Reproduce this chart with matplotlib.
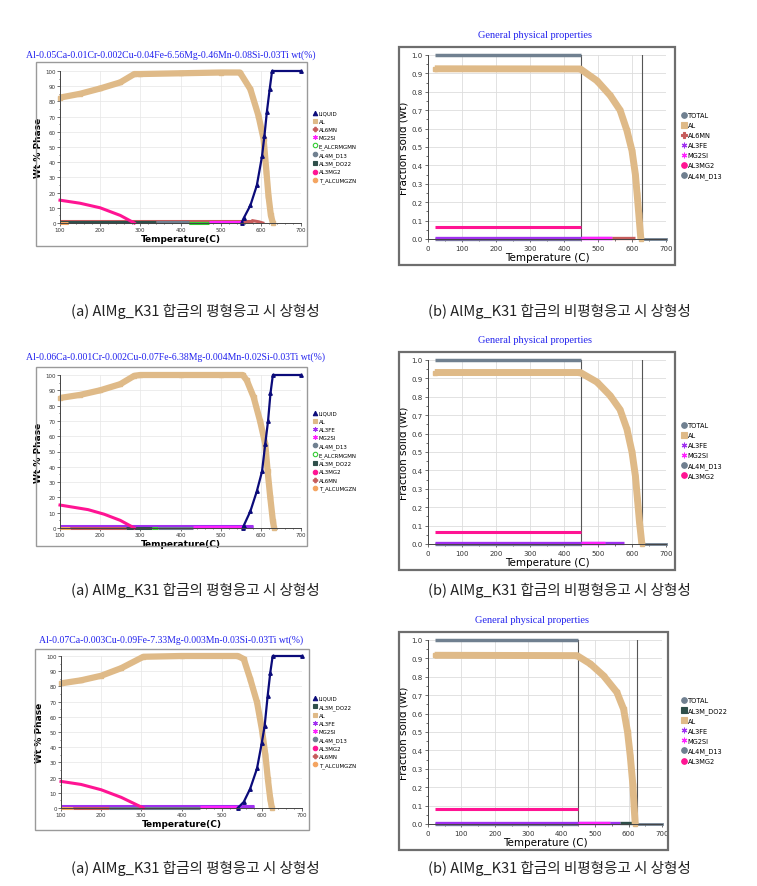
import matplotlib
matplotlib.use("Agg")
import matplotlib.pyplot as plt
from matplotlib.patches import Rectangle
from matplotlib.lines import Line2D
from matplotlib.ticker import MultipleLocator

W, H = 757, 887

# ---------------- colours ----------------
C = {
    "LIQUID": "#0b0b7a", "AL": "#dfba88", "AL6MN": "#c65c5c", "MG2SI": "#ff22ff",
    "E_ALCRMGMN": "#33cc33", "AL4M_D13": "#6f7f8f", "AL3M_DO22": "#2f4f4a",
    "AL3MG2": "#ff1493", "T_ALCUMGZN": "#f4a460", "AL3FE": "#a030f0", "TOTAL": "#708090",
}
MK = {
    "LIQUID": "^", "AL": "s", "AL6MN": "P", "MG2SI": (6, 2, 0), "E_ALCRMGMN": "o",
    "AL4M_D13": "o", "AL3M_DO22": "s", "AL3MG2": "o", "T_ALCUMGZN": "o",
    "AL3FE": (6, 2, 0), "TOTAL": "o",
}

# ---------------- text ----------------
titles_left = [
    "Al-0.05Ca-0.01Cr-0.002Cu-0.04Fe-6.56Mg-0.46Mn-0.08Si-0.03Ti wt(%)",
    "Al-0.06Ca-0.001Cr-0.002Cu-0.07Fe-6.38Mg-0.004Mn-0.02Si-0.03Ti wt(%)",
    "Al-0.07Ca-0.003Cu-0.09Fe-7.33Mg-0.003Mn-0.03Si-0.03Ti wt(%)",
]
title_right = "General physical properties"
caption_a = "(a) AlMg_K31 합금의 평형응고 시 상형성"
caption_b = "(b) AlMg_K31 합금의 비평형응고 시 상형성"

legend_left = [
    ["LIQUID", "AL", "AL6MN", "MG2SI", "E_ALCRMGMN", "AL4M_D13", "AL3M_DO22", "AL3MG2", "T_ALCUMGZN"],
    ["LIQUID", "AL", "AL3FE", "MG2SI", "AL4M_D13", "E_ALCRMGMN", "AL3M_DO22", "AL3MG2", "AL6MN", "T_ALCUMGZN"],
    ["LIQUID", "AL3M_DO22", "AL", "AL3FE", "MG2SI", "AL4M_D13", "AL3MG2", "AL6MN", "T_ALCUMGZN"],
]
legend_right = [
    ["TOTAL", "AL", "AL6MN", "AL3FE", "MG2SI", "AL3MG2", "AL4M_D13"],
    ["TOTAL", "AL", "AL3FE", "MG2SI", "AL4M_D13", "AL3MG2"],
    ["TOTAL", "AL3M_DO22", "AL", "AL3FE", "MG2SI", "AL4M_D13", "AL3MG2"],
]

# ---------------- equilibrium data (Wt % phase vs T) ----------------
eq_AL_T = [
    [100, 150, 200, 250, 285, 300, 400, 500, 548, 574, 594, 607, 614, 619, 625, 630],
    [100, 150, 200, 250, 285, 300, 400, 500, 555, 565, 582, 598, 611, 617, 623.5, 630, 633],
    [100, 150, 200, 250, 305, 400, 540, 555, 571, 588, 600, 609, 615, 621, 625],
]
eq_AL_V = [
    [82.5, 85, 88.5, 92.5, 98, 98, 98.5, 99, 99, 88, 70.7, 55, 33.5, 18, 5, 0],
    [85, 87, 90, 94, 99.5, 100, 100, 100, 100, 96.5, 85.6, 70, 55, 37, 20, 4.6, 0],
    [82, 84, 87, 92, 99.5, 100, 100, 98, 85, 69.6, 52, 34.6, 19, 6, 0],
]
eq_LIQ_T = [
    [552, 557, 574, 590, 603, 609, 615, 622, 628, 700],
    [555, 557, 574, 590, 603, 611, 618, 624, 630, 700],
    [540, 555, 571, 588, 600, 607, 614.6, 621, 627, 700],
]
eq_LIQ_V = [
    [0, 3, 11.6, 24.7, 44, 57.5, 73, 88, 100, 100],
    [0, 1.3, 11, 24, 37, 55, 70, 88, 100, 100],
    [0, 4, 12.7, 26, 43, 54, 74, 89, 100, 100],
]
eq_MG2_T = [[100, 150, 200, 250, 285], [100, 170, 210, 250, 285], [100, 150, 200, 250, 305]]
eq_MG2_V = [[15, 13, 10, 5, 0], [15, 12, 9, 5, 0], [17.5, 15.5, 12, 7, 0]]
# minor phases: (phase, T start, T end, value)
eq_minor = [
    [("AL6MN", 100, 580, 1.5), ("AL3M_DO22", 100, 340, 0.5),
     ("T_ALCUMGZN", 100, 120, 0.3), ("AL4M_D13", 340, 420, 0.5), ("E_ALCRMGMN", 420, 470, 0.3),
     ("MG2SI", 470, 555, 0.5)],
    [("AL3FE", 100, 580, 1.0), ("T_ALCUMGZN", 100, 125, 0.3), ("AL6MN", 125, 265, 0.3),
     ("AL3M_DO22", 265, 330, 0.3), ("E_ALCRMGMN", 330, 345, 0.3), ("AL4M_D13", 345, 430, 0.3),
     ("MG2SI", 430, 555, 0.4), ("AL3FE", 555, 580, 0.4)],
    [("AL3FE", 100, 580, 1.0), ("T_ALCUMGZN", 100, 130, 0.3), ("AL6MN", 130, 220, 0.3),
     ("AL4M_D13", 220, 445, 0.3), ("MG2SI", 445, 540, 0.4), ("AL3FE", 540, 580, 0.4)],
]
eq_AL6MN_tail_T = [580, 595, 605]
eq_AL6MN_tail_V = [1.5, 0.8, 0]

# ---------------- Scheil data (fraction solid vs T) ----------------
sc_AL_T = [
    [20, 448, 497, 536, 565, 585, 600, 610, 615, 620, 626],
    [20, 448, 497, 536, 565, 585, 600, 610, 616, 622, 629],
    [20, 446, 486, 525, 565, 585, 597, 605, 613, 617, 620],
]
sc_AL_V = [
    [0.925, 0.924, 0.86, 0.78, 0.70, 0.59, 0.48, 0.35, 0.245, 0.136, 0],
    [0.932, 0.932, 0.88, 0.806, 0.73, 0.625, 0.50, 0.37, 0.245, 0.12, 0],
    [0.917, 0.915, 0.87, 0.806, 0.716, 0.625, 0.50, 0.37, 0.21, 0.08, 0],
]
sc_AL3MG2 = [0.065, 0.063, 0.08]
sc_split_T = [450, 450, 450]
sc_end_T = [628, 628, 625]
sc_minor = [
    [("AL4M_D13", 20, 450, 0.002), ("AL3FE", 20, 540, 0.006), ("MG2SI", 450, 540, 0.005),
     ("AL6MN", 540, 608, 0.004)],
    [("AL4M_D13", 20, 450, 0.002), ("AL3FE", 20, 520, 0.008), ("MG2SI", 450, 520, 0.005),
     ("AL3FE", 520, 575, 0.004)],
    [("AL4M_D13", 20, 450, 0.002), ("AL3FE", 20, 545, 0.008), ("MG2SI", 450, 545, 0.005),
     ("AL3FE", 545, 575, 0.004), ("AL3M_DO22", 575, 615, 0.004)],
]

# ---------------- layout (pixels) ----------------
L_axes = [(60, 72, 301, 224), (60, 376, 301, 529), (61, 657, 302, 809)]
L_frame = [(36, 63, 307, 247), (36, 368, 307, 547), (35, 650, 309, 831)]
L_title_y = [55, 357, 640]
L_title_x = [171, 175, 171]
L_leg = [(313, 112), (313, 412), (313, 697)]
R_axes = [(428, 56, 666, 240), (428, 361, 666, 545), (428, 641, 662, 825)]
R_frame = [(399, 48, 675, 266), (399, 353, 675, 571), (399, 633, 668, 851)]
R_title_y = [36, 341, 621]
R_title_x = [535, 535, 532]
R_leg = [(681, 113), (681, 423), (681, 698)]
cap_y = [311, 590, 868]

fig = plt.figure(figsize=(W / 100, H / 100), dpi=100)
fig.patch.set_facecolor("white")


def rect(b):
    x0, y0, x1, y1 = b
    return [x0 / W, 1 - y1 / H, (x1 - x0) / W, (y1 - y0) / H]


def frame(b, color, lw):
    x0, y0, x1, y1 = b
    fig.patches.append(Rectangle((x0 / W, 1 - y1 / H), (x1 - x0) / W, (y1 - y0) / H,
                                 transform=fig.transFigure, fill=False, edgecolor=color, lw=lw))


def handles(names, ms):
    hs = []
    for n in names:
        face = "none" if n == "E_ALCRMGMN" else C[n]
        hs.append(Line2D([], [], ls="none", marker=MK[n], color=C[n], markerfacecolor=face,
                         markeredgecolor=C[n], markersize=ms, markeredgewidth=0.8))
    return hs


for i in range(3):
    # ---------- left: equilibrium ----------
    frame(L_frame[i], "#9a9a9a", 1.0)
    ax = fig.add_axes(rect(L_axes[i]))
    ax.set_xlim(100, 700)
    ax.set_ylim(0, 100)
    for s in ["top", "right"]:
        ax.spines[s].set_visible(False)
    for s in ["left", "bottom"]:
        ax.spines[s].set_color("#444444")
        ax.spines[s].set_linewidth(0.7)
    ax.xaxis.set_major_locator(MultipleLocator(100))
    ax.xaxis.set_minor_locator(MultipleLocator(20))
    ax.yaxis.set_major_locator(MultipleLocator(10))
    ax.yaxis.set_minor_locator(MultipleLocator(5))
    ax.tick_params(which="both", labelsize=4, length=2, width=0.5, pad=1, colors="#333333")
    ax.tick_params(which="minor", length=1)
    ax.grid(True, color="#e6e6e6", lw=0.5)
    ax.set_axisbelow(True)
    ax.set_ylabel("Wt % Phase", fontsize=6.5, fontweight="bold", labelpad=2)
    ax.set_xlabel("Temperature(C)", fontsize=6.5, fontweight="bold", labelpad=1)

    for (n, t0, t1, v) in eq_minor[i]:
        ax.plot([t0, t1], [v, v], color=C[n], lw=2.2, solid_capstyle="butt", clip_on=False)
    if i == 0:
        ax.plot(eq_AL6MN_tail_T, eq_AL6MN_tail_V, color=C["AL6MN"], lw=2.2)
    ax.plot(eq_MG2_T[i], eq_MG2_V[i], color=C["AL3MG2"], lw=2.2, clip_on=False)
    ax.plot(eq_AL_T[i], eq_AL_V[i], color=C["AL"], lw=4.5, marker="s", ms=3.5,
            solid_capstyle="butt", clip_on=False)
    ax.plot(eq_LIQ_T[i], eq_LIQ_V[i], color=C["LIQUID"], lw=1.6, marker="^", ms=2.5,
            clip_on=False)

    fig.text(L_title_x[i] / W, 1 - L_title_y[i] / H, titles_left[i], ha="center", va="center",
             fontsize=7, color="#2222ee", family="Liberation Serif")
    lx, ly = L_leg[i]
    ax.legend(handles=handles(legend_left[i], 3.2), labels=legend_left[i], loc="upper left",
              bbox_to_anchor=(lx / W, 1 - ly / H), bbox_transform=fig.transFigure,
              frameon=False, fontsize=4, labelspacing=0.55, handlelength=0.8,
              handletextpad=0.2, borderpad=0, borderaxespad=0)

    # ---------- right: Scheil ----------
    frame(R_frame[i], "#6e6e6e", 1.6)
    bx = fig.add_axes(rect(R_axes[i]))
    bx.set_xlim(0, 700)
    bx.set_ylim(0, 1.0)
    for s in ["top", "right"]:
        bx.spines[s].set_visible(False)
    for s in ["left", "bottom"]:
        bx.spines[s].set_color("#444444")
        bx.spines[s].set_linewidth(0.7)
    bx.xaxis.set_major_locator(MultipleLocator(100))
    bx.xaxis.set_minor_locator(MultipleLocator(50))
    bx.yaxis.set_major_locator(MultipleLocator(0.1))
    bx.yaxis.set_minor_locator(MultipleLocator(0.05))
    bx.yaxis.set_major_formatter(matplotlib.ticker.FormatStrFormatter("%.1f"))
    bx.tick_params(which="both", labelsize=5, length=2.5, width=0.5, pad=1.5, colors="#333333")
    bx.tick_params(which="minor", length=1.5)
    bx.grid(True, color="#dddddd", lw=0.6)
    bx.set_axisbelow(True)
    bx.set_ylabel("Fraction solid (wt)", fontsize=7.5, labelpad=2)
    bx.set_xlabel("Temperature (C)", fontsize=7.5, labelpad=1)

    st, et = sc_split_T[i], sc_end_T[i]
    bx.plot([st, st], [0, 1.0], color="#555555", lw=0.8)
    bx.plot([et, et], [0, 1.0], color="#555555", lw=0.8)
    bx.plot([20, st], [1.0, 1.0], color=C["TOTAL"], lw=2.5, solid_capstyle="butt", clip_on=False)
    bx.plot([et, 700], [0, 0], color=C["TOTAL"], lw=2.0, clip_on=False)
    bx.plot([20, st], [sc_AL3MG2[i], sc_AL3MG2[i]], color=C["AL3MG2"], lw=2.2,
            solid_capstyle="butt")
    for (n, t0, t1, v) in sc_minor[i]:
        bx.plot([t0, t1], [v, v], color=C[n], lw=2.4, solid_capstyle="butt", clip_on=False)
    bx.plot(sc_AL_T[i], sc_AL_V[i], color=C["AL"], lw=5, marker="s", ms=3.5,
            solid_capstyle="butt", clip_on=False)

    fig.text(R_title_x[i] / W, 1 - R_title_y[i] / H, title_right, ha="center", va="center",
             fontsize=7.5, color="#2222ee", family="Liberation Serif")
    rx, ry = R_leg[i]
    bx.legend(handles=handles(legend_right[i], 4), labels=legend_right[i], loc="upper left",
              bbox_to_anchor=(rx / W, 1 - ry / H), bbox_transform=fig.transFigure,
              frameon=False, fontsize=4.8, labelspacing=0.6, handlelength=0.8,
              handletextpad=0.2, borderpad=0, borderaxespad=0)

    # captions
    fig.text(195 / W, 1 - cap_y[i] / H, caption_a, ha="center", va="center", fontsize=10.5,
             family=["Noto Sans CJK KR", "DejaVu Sans"], color="#222222")
    fig.text(559 / W, 1 - cap_y[i] / H, caption_b, ha="center", va="center", fontsize=10.5,
             family=["Noto Sans CJK KR", "DejaVu Sans"], color="#222222")

fig.savefig("out.png", dpi=100, facecolor="white")
